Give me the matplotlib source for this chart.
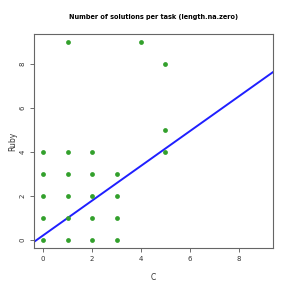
import matplotlib
matplotlib.use("Agg")
import matplotlib.pyplot as plt

# solutions per task, C vs Ruby
c_counts = [0, 1, 2, 3, 0, 1, 2, 3, 0, 1, 2, 3, 0, 1, 2, 3, 0, 1, 2, 5, 5, 5, 1, 4]
ruby_counts = [0, 0, 0, 0, 1, 1, 1, 1, 2, 2, 2, 2, 3, 3, 3, 3, 4, 4, 4, 4, 5, 8, 9, 9]

# fitted line (intercept, slope)
fit_intercept = 0.21
fit_slope = 0.79

x_ticks = [0, 2, 4, 6, 8]
y_ticks = [0, 2, 4, 6, 8]

fig = plt.figure(figsize=(2.91, 2.91), dpi=100)
ax = fig.add_axes([0.1168, 0.1478, 0.8212, 0.7354])

ax.scatter(c_counts, ruby_counts, s=12, color="#33a02c", zorder=3, linewidths=0)
ax.axline((0, fit_intercept), slope=fit_slope, color="#1f1fff", lw=1.4, zorder=2)

ax.set_xlim(-0.37, 9.39)
ax.set_ylim(-0.36, 9.36)
ax.set_xticks(x_ticks)
ax.set_yticks(y_ticks)
ax.tick_params(labelsize=5, length=3, width=0.6, color="#555555", labelcolor="#333333", pad=3)
for lab in ax.get_yticklabels():
    lab.set_rotation(90)
    lab.set_va("center")

for sp in ax.spines.values():
    sp.set_color("#666666")
    sp.set_linewidth(0.8)

ax.set_xlabel("C", fontsize=5.5, color="#333333", labelpad=8)
ax.set_ylabel("Ruby", fontsize=5.5, color="#333333", labelpad=2)
fig.text(0.5275, 0.942, "Number of solutions per task (length.na.zero)",
         ha="center", va="center", fontsize=4.7, fontweight="bold")

fig.savefig("out.png", dpi=100)
